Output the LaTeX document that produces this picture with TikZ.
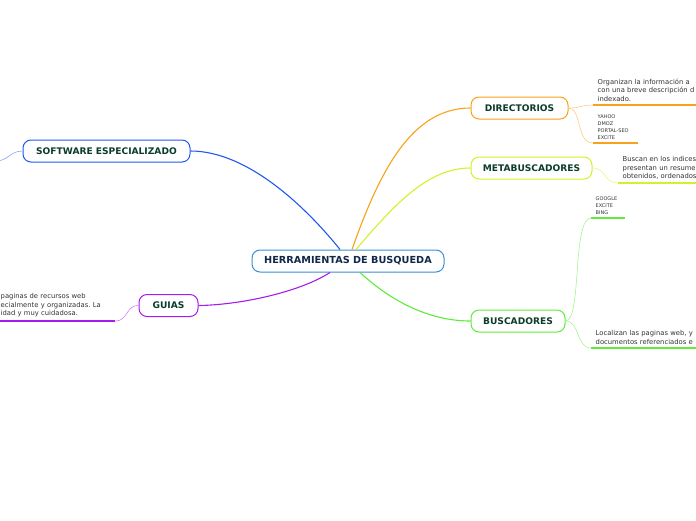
\documentclass[tikz,border=0pt]{standalone}
\usepackage{fontspec}
\setmainfont{DejaVu Sans}
\frenchspacing
\definecolor{topictext}{HTML}{0B3D2A}
\definecolor{roottext}{HTML}{12284A}
\definecolor{rootline}{HTML}{3A8FD6}
\definecolor{swblue}{HTML}{2158F0}
\definecolor{dirorange}{HTML}{F7A21B}
\definecolor{metayellow}{HTML}{D4F02A}
\definecolor{busgreen}{HTML}{5EEB3A}
\definecolor{guipurple}{HTML}{A51CF0}
\definecolor{leaftext}{HTML}{333333}
\tikzset{
  topic/.style={draw=#1, line width=1pt, rounded corners=8pt, fill=white,
    text=topictext, font=\bfseries\fontsize{9.1}{11}\selectfont,
    minimum height=22pt, inner xsep=3pt},
  branch/.style={draw=#1, line width=1.1pt},
  twig/.style={draw=#1!55, line width=0.6pt},
  leaf/.style={anchor=south west, align=left, text=leaftext,
    font=\fontsize{6.8}{8.5}\selectfont, inner xsep=4.5pt, inner ysep=3.5pt},
  tinyleaf/.style={leaf, font=\fontsize{5}{6.8}\selectfont},
  under/.style={draw=#1, line width=1.5pt},
}
\begin{document}
\begin{tikzpicture}[x=1pt,y=-1pt]
  \clip (0,0) rectangle (696,520);
  % main topics
  \node[topic=rootline, text=roottext, font=\bfseries\fontsize{9.7}{11}\selectfont,
    minimum width=192pt] (root) at (348,261) {HERRAMIENTAS DE BUSQUEDA};
  \node[topic=swblue, minimum width=167pt] (soft) at (106.5,151) {SOFTWARE ESPECIALIZADO};
  \node[topic=guipurple, minimum width=59pt] (guias) at (168.5,305.5) {GUIAS};
  \node[topic=dirorange, minimum width=97pt] (dir) at (519.5,108) {DIRECTORIOS};
  \node[topic=metayellow, minimum width=121pt] (meta) at (531.5,168) {METABUSCADORES};
  \node[topic=busgreen, minimum width=94pt] (bus) at (518,321) {BUSCADORES};

  % branches from the root
  \draw[branch=swblue] ([xshift=-8pt]root.north) .. controls (310,212) and (250,151) .. (soft.east);
  \draw[branch=dirorange] ([xshift=4pt]root.north) .. controls (380,170) and (412,108) .. (dir.west);
  \draw[branch=metayellow] ([xshift=8pt]root.north) .. controls (398,200) and (430,168) .. (meta.west);
  \draw[branch=busgreen] ([xshift=12pt]root.south) .. controls (392,302) and (430,321) .. (bus.west);
  \draw[branch=guipurple] ([xshift=-18pt]root.south) .. controls (300,292) and (240,305) .. (guias.east);

  % leaves
  \node[leaf, text width=110pt] (dirinfo) at (593,105)
    {Organizan la información a\\con una breve descripción d\\indexado.};
  \node[tinyleaf, text width=36pt] (dirlist) at (593,143)
    {YAHOO\\DMOZ\\PORTAL-SEO\\EXCITE};
  \node[leaf, text width=95pt] (metainfo) at (618,183)
    {Buscan en los indices\\presentan un resume\\obtenidos, ordenados};
  \node[tinyleaf, text width=25pt] (buslist) at (591,218)
    {GOOGLE\\EXCITE\\BING};
  \node[leaf, text width=110pt] (businfo) at (591,348)
    {Localizan las paginas web, y\\documentos referenciados e};
  \node[leaf, text width=110pt] (guiinfo) at (-4,321)
    {paginas de recursos web\\ecialmente y organizadas. La\\idad y muy cuidadosa.};
  \coordinate (softleaf) at (-4,161);

  % underlines
  \draw[under=dirorange] (dirinfo.south west) -- (dirinfo.south east);
  \draw[under=dirorange] (dirlist.south west) -- (dirlist.south east);
  \draw[under=metayellow] (metainfo.south west) -- (metainfo.south east);
  \draw[under=busgreen] (buslist.south west) -- (buslist.south east);
  \draw[under=busgreen] (businfo.south west) -- (businfo.south east);
  \draw[under=guipurple] (guiinfo.south west) -- (guiinfo.south east);

  % twigs to the leaves
  \draw[twig=dirorange] (dir.east) .. controls (582,108) and (580,105) .. (dirinfo.south west);
  \draw[twig=dirorange] (dir.east) .. controls (582,108) and (576,143) .. (dirlist.south west);
  \draw[twig=metayellow] (meta.east) .. controls (606,168) and (604,183) .. (metainfo.south west);
  \draw[twig=busgreen] (bus.east) .. controls (582,321) and (572,218) .. (buslist.south west);
  \draw[twig=busgreen] (bus.east) .. controls (580,321) and (576,348) .. (businfo.south west);
  \draw[twig=guipurple] (guias.west) .. controls (126,305) and (128,321) .. (guiinfo.south east);
  \draw[twig=swblue] (soft.west) .. controls (10,151) and (8,161) .. (softleaf);
\end{tikzpicture}
\end{document}
